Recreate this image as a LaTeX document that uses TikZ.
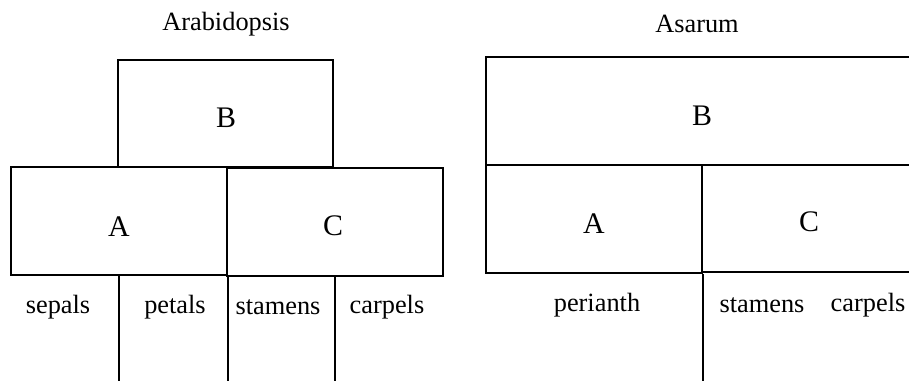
\documentclass[tikz,border=0pt]{standalone}
\usepackage{fontspec}
\setmainfont{Liberation Serif}
\tikzset{
  box/.style={draw,rectangle,inner sep=0pt,line width=0.9pt},
  gene/.style={font=\fontsize{17}{20}\selectfont},
  organ/.style={font=\fontsize{15}{18}\selectfont},
}
\begin{document}
\begin{tikzpicture}[x=0.02cm,y=-0.02cm]
\useasboundingbox (0,0) rectangle (909,381);
\clip (0,0) rectangle (909,381);
\coordinate (base) at (0,381);

\node[organ] (arab) at (226,24) {Arabidopsis};
\node[box,minimum width=4.3cm,minimum height=2.14cm] (Bl) at (225.5,113.5) {};
\node[box,minimum width=4.32cm,minimum height=2.16cm] (Al) at (119,221) {};
\node[box,minimum width=4.32cm,minimum height=2.16cm] (Cl) at (335,222) {};
\node[gene] (bl) at (226,118) {B};
\node[gene] (al) at (119,227) {A};
\node[gene] (cl) at (333,226) {C};
\draw[line width=0.9pt] (Al.south) -- (Al.south |- base);
\draw[line width=0.9pt] (Al.south east) -- (Al.south east |- base);
\draw[line width=0.9pt] (Cl.south) -- (Cl.south |- base);
\node[organ] (sep) at (58,307) {sepals};
\node[organ] (pet) at (175,307) {petals};
\node[organ] (sta) at (278,307) {stamens};
\node[organ] (car) at (387,307) {carpels};

\node[organ] (asar) at (697,24) {Asarum};
\node[box,minimum width=8.88cm,minimum height=2.16cm] (Br) at (708,111) {};
\node[box,minimum width=4.32cm,minimum height=2.16cm] (Ar) at (594,219) {};
\node[box,minimum width=4.56cm,minimum height=2.14cm] (Cr) at (816,218.5) {};
\node[gene] (br) at (702,116) {B};
\node[gene] (ar) at (594,224) {A};
\node[gene] (cr) at (809,222) {C};
\draw[line width=0.9pt] (Ar.south east) -- (Ar.south east |- base);
\node[organ] (per) at (597,305) {perianth};
\node[organ] (sta2) at (762,305) {stamens};
\node[organ] (car2) at (868,305) {carpels};
\end{tikzpicture}
\end{document}
